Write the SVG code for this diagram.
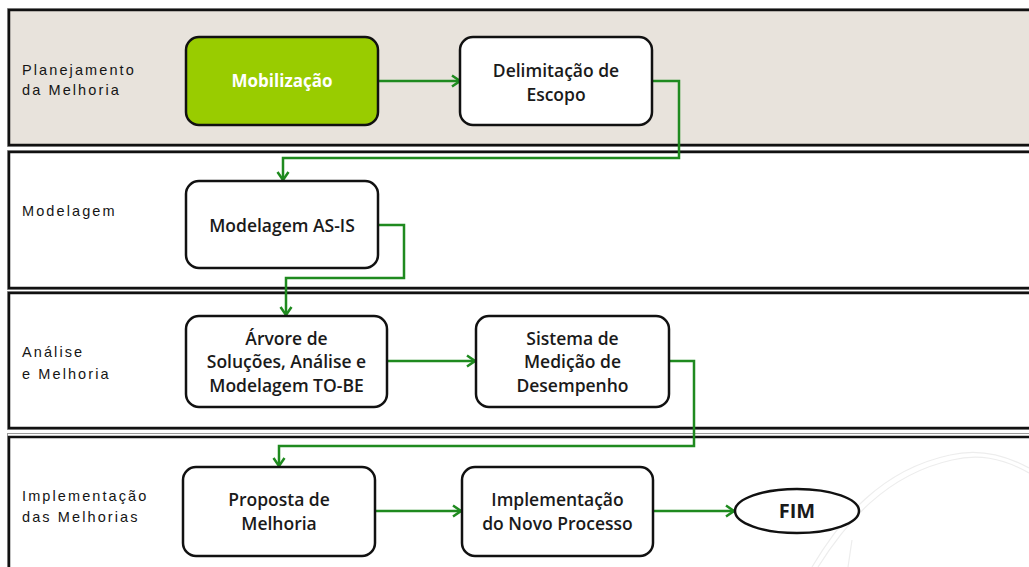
<svg xmlns="http://www.w3.org/2000/svg" width="1029" height="567" viewBox="0 0 1029 567">
  <defs>
    <style>
      .lane { stroke: #111; stroke-width: 2.5; }
      .lane-halo { fill: none; stroke: #9a9a9a; stroke-width: 1; }
      .lane-label { font-family: "Liberation Sans", Arial, sans-serif; font-size: 14.5px; letter-spacing: 2.1px; fill: #151515; }
      .box { fill: #fff; stroke: #111; stroke-width: 2.5; }
      .box-label { font-family: "Open Sans", "Noto Sans", sans-serif; font-size: 17.5px; font-weight: 600; fill: #1a1a1a; text-anchor: middle; }
      .flow { fill: none; stroke: #1f8a1f; stroke-width: 2.5; marker-end: url(#arrow); }
      .watermark { fill: none; stroke: #ededed; stroke-width: 1.2; }
    </style>
    <marker id="arrow" viewBox="-10 -7 12 14" refX="0" refY="0" markerWidth="12" markerHeight="14" markerUnits="userSpaceOnUse" orient="auto">
      <path d="M-8,-5.5 L0,0 L-8,5.5" fill="none" stroke="#1f8a1f" stroke-width="2.5"/>
    </marker>
  </defs>

  <rect x="0" y="0" width="1029" height="567" fill="#fff"/>

  <!-- faint background ornament -->
  <g id="ornament">
    <path class="watermark" d="M812,567 C840,520 880,470 950,455 C975,449 1000,452 1029,468"/>
    <path class="watermark" d="M818,567 C846,523 885,475 952,460 C977,454 1001,457 1029,473"/>
    <path class="watermark" d="M848,567 L852,540"/>
  </g>

  <!-- swimlanes -->
  <g id="lanes">
    <g id="lane-planejamento">
      <rect class="lane-halo" x="7.5" y="8.5" width="1030" height="138"/>
      <rect class="lane" x="9" y="10" width="1030" height="135" fill="#e8e3dc"/>
      <text class="lane-label" x="22" y="75">Planejamento</text>
      <text class="lane-label" x="22" y="95">da Melhoria</text>
    </g>
    <g id="lane-modelagem">
      <rect class="lane-halo" x="7.5" y="150.5" width="1030" height="139"/>
      <rect class="lane" x="9" y="152" width="1030" height="136" fill="#fff"/>
      <text class="lane-label" x="22" y="216">Modelagem</text>
    </g>
    <g id="lane-analise">
      <rect class="lane-halo" x="7.5" y="291.5" width="1030" height="138"/>
      <rect class="lane" x="9" y="293" width="1030" height="135" fill="#fff"/>
      <text class="lane-label" x="22" y="357">Análise</text>
      <text class="lane-label" x="22" y="379">e Melhoria</text>
    </g>
    <g id="lane-implementacao">
      <rect class="lane-halo" x="7.5" y="433.5" width="1030" height="140"/>
      <rect class="lane" x="9" y="437" width="1030" height="140" fill="none"/>
      <text class="lane-label" x="22" y="501">Implementação</text>
      <text class="lane-label" x="22" y="522">das Melhorias</text>
    </g>
  </g>

  <!-- connectors -->
  <g id="connectors">
    <path class="flow" d="M378,81 H460"/>
    <path class="flow" d="M652,81 H679 V158 H283 V180"/>
    <path class="flow" d="M378,225 H404 V278 H286 V315"/>
    <path class="flow" d="M387,361 H475"/>
    <path class="flow" d="M669,361 H694 V446 H279 V466"/>
    <path class="flow" d="M375,511 H461"/>
    <path class="flow" d="M653,511 H734"/>
  </g>

  <!-- process steps -->
  <g id="node-mobilizacao">
    <rect x="186" y="37" width="192" height="88" rx="13" fill="#99cc00" stroke="#111" stroke-width="2.5"/>
    <text class="box-label" x="282" y="87" style="fill:#fff;font-weight:700;font-size:17px">Mobilização</text>
  </g>
  <g id="node-delimitacao">
    <rect class="box" x="460" y="37" width="192" height="88" rx="13"/>
    <text class="box-label" x="556" y="77">Delimitação de</text>
    <text class="box-label" x="556" y="101">Escopo</text>
  </g>
  <g id="node-modelagem-as-is">
    <rect class="box" x="186" y="181" width="192" height="87" rx="13"/>
    <text class="box-label" x="282" y="232">Modelagem AS-IS</text>
  </g>
  <g id="node-arvore">
    <rect class="box" x="186" y="316" width="201" height="91" rx="13"/>
    <text class="box-label" x="286.5" y="345">Árvore de</text>
    <text class="box-label" x="286.5" y="368">Soluções, Análise e</text>
    <text class="box-label" x="286.5" y="392">Modelagem TO-BE</text>
  </g>
  <g id="node-sistema">
    <rect class="box" x="476" y="316" width="193" height="91" rx="13"/>
    <text class="box-label" x="572.5" y="345">Sistema de</text>
    <text class="box-label" x="572.5" y="368">Medição de</text>
    <text class="box-label" x="572.5" y="392">Desempenho</text>
  </g>
  <g id="node-proposta">
    <rect class="box" x="183" y="467" width="192" height="89" rx="13"/>
    <text class="box-label" x="279" y="506">Proposta de</text>
    <text class="box-label" x="279" y="530">Melhoria</text>
  </g>
  <g id="node-implementacao">
    <rect class="box" x="462" y="467" width="191" height="89" rx="13"/>
    <text class="box-label" x="557.5" y="506">Implementação</text>
    <text class="box-label" x="557.5" y="530">do Novo Processo</text>
  </g>
  <g id="node-fim">
    <ellipse cx="797" cy="511" rx="62" ry="22" fill="#fff" stroke="#111" stroke-width="2.5"/>
    <text class="box-label" x="797" y="518" style="font-weight:700;font-size:20px">FIM</text>
  </g>
</svg>
